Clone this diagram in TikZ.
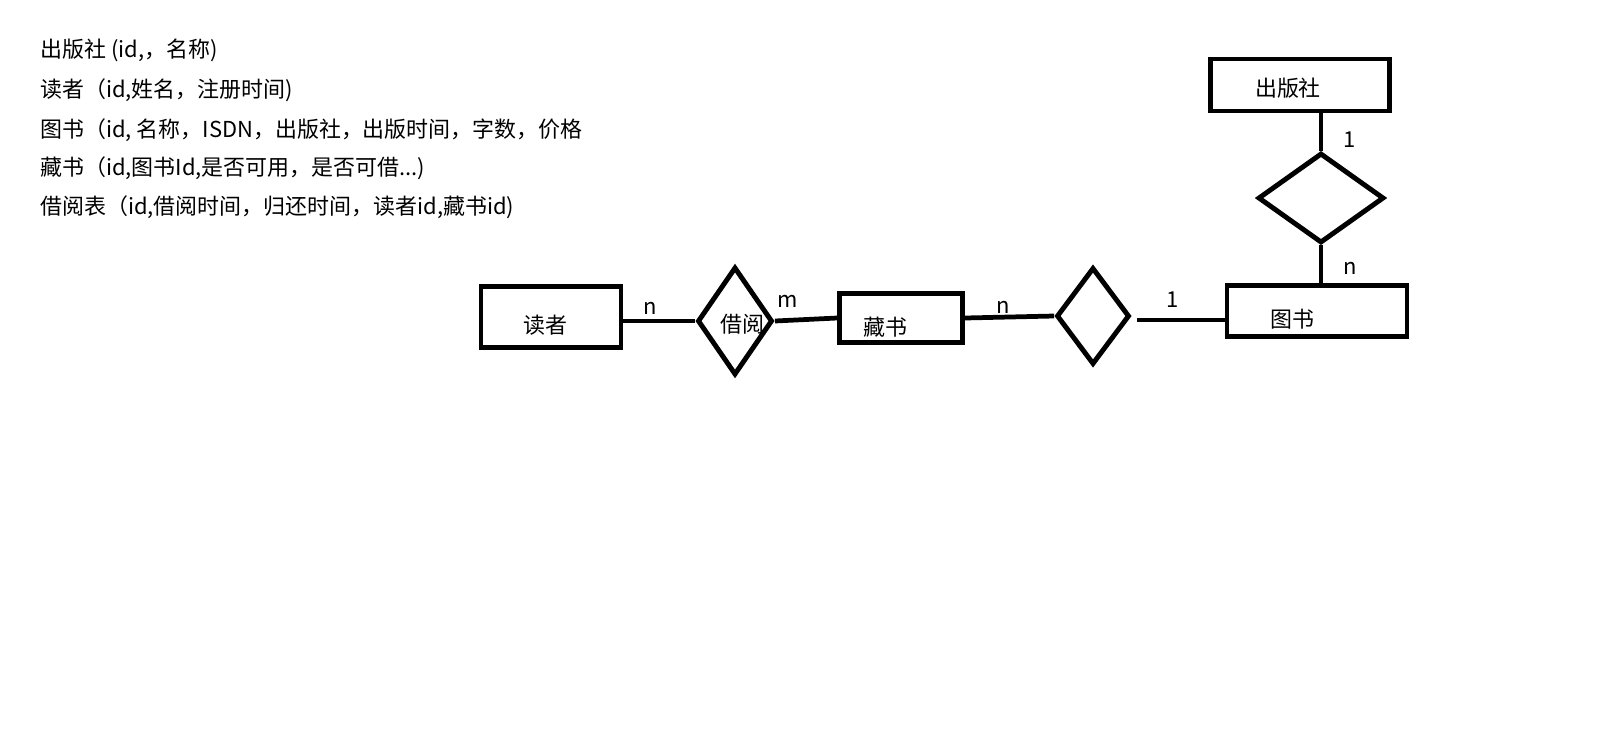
\documentclass[tikz,border=0pt]{standalone}
\usepackage{fontspec}
\setmainfont{Noto Sans CJK SC}
\usetikzlibrary{shapes.geometric, positioning}

\begin{document}
\begin{tikzpicture}[x=0.02cm, y=-0.02cm,
    font=\fontsize{12.5pt}{15pt}\selectfont,
    entity/.style={draw, line width=2.8pt, rectangle, inner sep=0pt},
    relation/.style={draw, line width=2.8pt, diamond, inner sep=0pt},
    link/.style={line width=2.7pt},
    card/.style={inner sep=0pt}]
    \useasboundingbox (0,0) rectangle (1620,752);

    % Schemas
    \node[anchor=west] (sPub) at (34,50) {出版社 (id,，名称)};
    \node[anchor=west] (sReader) at (34,90) {读者（id,姓名，注册时间)};
    \node[anchor=west] (sBook) at (34,130) {图书（id, 名称，ISDN，出版社，出版时间，字数，价格};
    \node[anchor=west] (sCopy) at (34,168) {藏书（id,图书Id,是否可用，是否可借...)};
    \node[anchor=west] (sLoan) at (34,207) {借阅表（id,借阅时间，归还时间，读者id,藏书id)};

    % Entities
    \node[entity, minimum width=2.8cm, minimum height=1.22cm,
        label={[shift={(-6,8)}]center:读者}] (du) at (551,317) {};
    \node[entity, minimum width=2.46cm, minimum height=0.98cm,
        label={[shift={(-16,9)}]center:藏书}] (cs) at (901,318) {};
    \node[entity, minimum width=3.6cm, minimum height=1.02cm,
        label={[shift={(-25,8)}]center:图书}] (ts) at (1317,311) {};
    \node[entity, minimum width=3.58cm, minimum height=1.04cm,
        label={[shift={(-12,3)}]center:出版社}] (pub) at (1300,85) {};

    % Relations
    \node[relation, minimum width=1.5cm, minimum height=2.16cm,
        label={[shift={(7,3)}]center:借阅}] (jy) at (735,321) {};
    \node[relation, minimum width=1.46cm, minimum height=1.94cm] (rel2) at (1093,316) {};
    \node[relation, minimum width=2.52cm, minimum height=1.8cm] (rel3) at (1321,198) {};

    % Links
    \draw[link] (jy.west -| du.east) -- (jy.west);
    \draw[link] (jy.east) -- (cs.west);
    \draw[link] (cs.east) -- (rel2.west);
    \draw[link] ([shift={(5,4)}]rel2.east) -- ([shift={(0,4)}]rel2.east -| ts.west);
    \draw[link] (rel3.north) -- (rel3.north |- pub.south);
    \draw[link] (rel3.south) -- (rel3.south |- ts.north);

    % Cardinalities
    \node[card] (c1) at (650,308) {n};
    \node[card] (c2) at (788,301) {m};
    \node[card] (c3) at (1003,307) {n};
    \node[card] (c4) at (1173,300) {1};
    \node[card] (c5) at (1350,140) {1};
    \node[card] (c6) at (1350,268) {n};
\end{tikzpicture}
\end{document}
